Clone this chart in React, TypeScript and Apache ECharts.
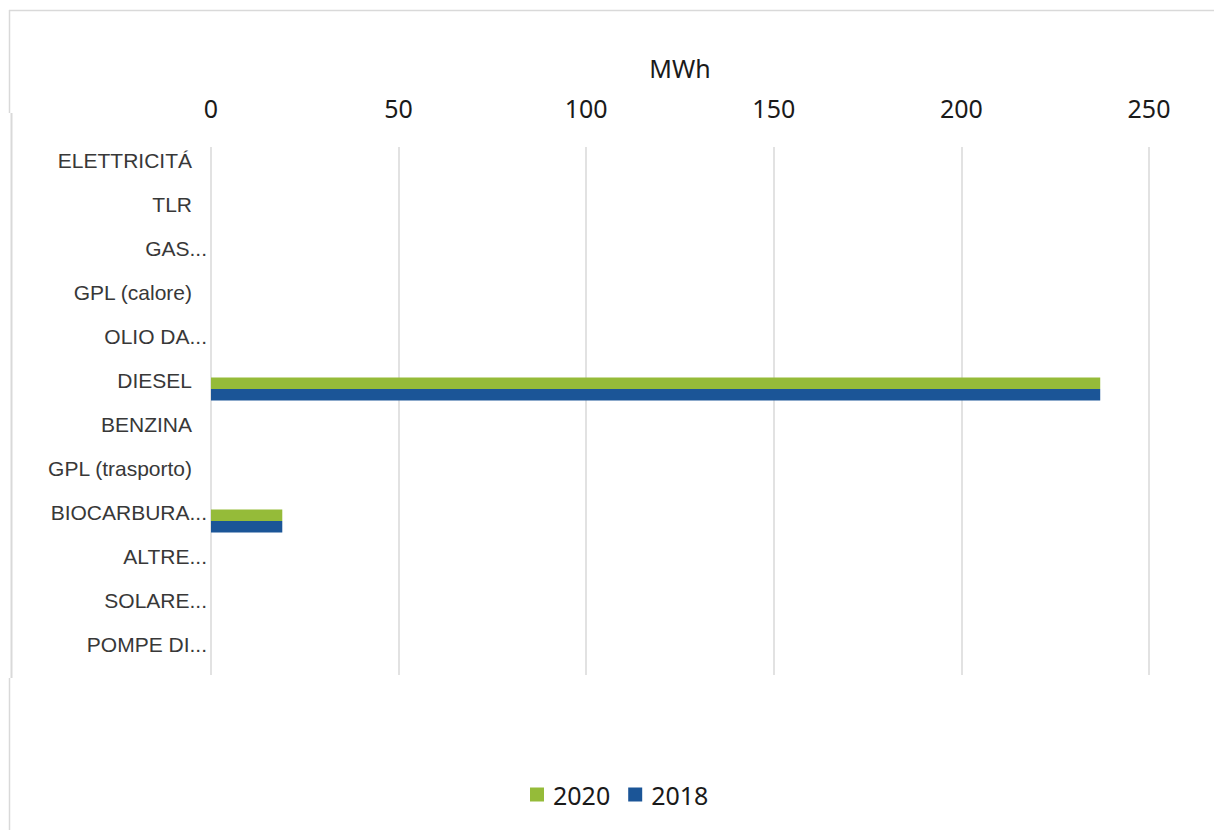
import React, { useEffect, useRef } from "react";
import * as echarts from "echarts";

// Energy consumption by source, MWh
const categories = [
  "ELETTRICITÁ",
  "TLR",
  "GAS...",
  "GPL (calore)",
  "OLIO DA...",
  "DIESEL",
  "BENZINA",
  "GPL (trasporto)",
  "BIOCARBURA...",
  "ALTRE...",
  "SOLARE...",
  "POMPE DI...",
];
const values2020 = [0, 0, 0, 0, 0, 237, 0, 0, 19, 0, 0, 0];
const values2018 = [0, 0, 0, 0, 0, 237, 0, 0, 19, 0, 0, 0];
const seriesNames = ["2020", "2018"];
const axisTicks = { min: 0, max: 250, interval: 50 };

const GREEN = "#95BB39";
const BLUE = "#1B5597";
const GRID = "#D9D9D9";

export default function App() {
  const ref = useRef<HTMLDivElement>(null);

  useEffect(() => {
    document.body.style.margin = "0";
    if (!ref.current) return;
    const chart = echarts.init(ref.current, null, { renderer: "svg" });
    const numFont = "'Noto Sans', 'Open Sans', sans-serif";
    const catFont = "'Liberation Sans', Arial, sans-serif";

    chart.setOption({
      animation: false,
      backgroundColor: "#ffffff",
      grid: { left: 211, right: 65, top: 147, bottom: 155, containLabel: false },
      xAxis: {
        type: "value",
        position: "top",
        min: axisTicks.min,
        max: axisTicks.max,
        interval: axisTicks.interval,
        name: "MWh",
        nameLocation: "middle",
        nameGap: 67,
        nameTextStyle: { fontFamily: numFont, fontSize: 25, color: "#1a1a1a" },
        axisLine: { show: false },
        axisTick: { show: false },
        axisLabel: { fontFamily: numFont, fontSize: 25, color: "#1a1a1a", margin: 27 },
        splitLine: { show: true, lineStyle: { color: GRID, width: 1.5 } },
      },
      yAxis: {
        type: "category",
        inverse: true,
        data: categories,
        axisLine: { show: false },
        axisTick: { show: false },
        axisLabel: {
          margin: 4,
          padding: [0, 0, 17, 0],
          formatter: (v: string) => (v.endsWith("...") ? `{t|${v}}` : `{f|${v}}`),
          rich: {
            f: { fontFamily: catFont, fontSize: 21, color: "#383838", padding: [0, 15, 0, 0] },
            t: { fontFamily: catFont, fontSize: 21, color: "#383838" },
          },
        },
      },
      legend: {
        left: 525,
        top: 777,
        icon: "rect",
        itemWidth: 14,
        itemHeight: 14,
        itemGap: 18,
        textStyle: {
          fontFamily: numFont,
          fontSize: 25,
          color: "#1a1a1a",
          padding: [0, 0, 0, 4],
        },
        data: seriesNames,
      },
      series: [
        {
          name: seriesNames[0],
          type: "bar",
          data: values2020,
          barWidth: 11.5,
          barGap: "0%",
          itemStyle: { color: GREEN },
        },
        {
          name: seriesNames[1],
          type: "bar",
          data: values2018,
          barWidth: 11.5,
          barGap: "0%",
          itemStyle: { color: BLUE },
        },
      ],
      graphic: [
        {
          type: "line",
          shape: { x1: 9, y1: 10.5, x2: 1214, y2: 10.5 },
          style: { stroke: GRID, lineWidth: 1.5 },
        },
        {
          type: "line",
          shape: { x1: 9.5, y1: 10, x2: 9.5, y2: 113 },
          style: { stroke: GRID, lineWidth: 1.5 },
        },
        {
          type: "line",
          shape: { x1: 11.5, y1: 113, x2: 11.5, y2: 678 },
          style: { stroke: GRID, lineWidth: 2 },
        },
        {
          type: "line",
          shape: { x1: 9.5, y1: 678, x2: 9.5, y2: 830 },
          style: { stroke: GRID, lineWidth: 1.5 },
        },
      ],
    });

    return () => chart.dispose();
  }, []);

  return <div ref={ref} style={{ width: 1214, height: 830 }} />;
}
